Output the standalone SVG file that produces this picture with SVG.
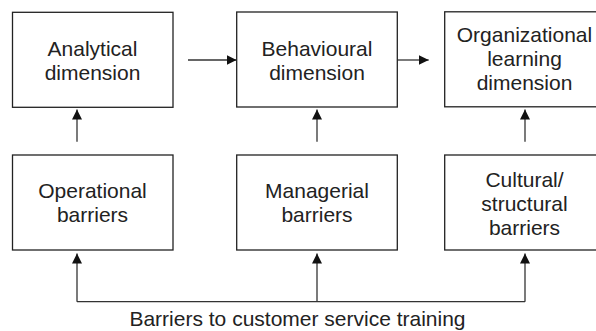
<svg xmlns="http://www.w3.org/2000/svg" width="596" height="331" viewBox="0 0 596 331">
  <style>
    .box { fill: #fff; stroke: #222; stroke-width: 1.3; }
    .lbl { font-family: "Liberation Sans", Arial, sans-serif; font-size: 21px; fill: #222; text-anchor: middle; }
    .conn { stroke: #333; stroke-width: 1.3; fill: none; }
    .arr { marker-end: url(#ah); }
  </style>
  <defs>
    <marker id="ah" markerUnits="userSpaceOnUse" markerWidth="11" markerHeight="10" refX="10" refY="5" orient="auto" viewBox="0 0 11 10">
      <path d="M0,0 L10,5 L0,10 z" fill="#111"/>
    </marker>
  </defs>
  <rect width="596" height="331" fill="#fff"/>

  <g id="connectors">
    <line class="conn arr" x1="188" y1="60" x2="236.5" y2="60"/>
    <line class="conn arr" x1="397.3" y1="60" x2="428.7" y2="60"/>
    <line class="conn arr" x1="77" y1="141.7" x2="77" y2="109.5"/>
    <line class="conn arr" x1="317" y1="141.7" x2="317" y2="109.5"/>
    <line class="conn arr" x1="525" y1="141.7" x2="525" y2="109.5"/>
    <line class="conn" x1="77" y1="301.7" x2="525" y2="301.7"/>
    <line class="conn arr" x1="77" y1="301.7" x2="77" y2="253.5"/>
    <line class="conn arr" x1="317" y1="301.7" x2="317" y2="253.5"/>
    <line class="conn arr" x1="525" y1="301.7" x2="525" y2="253.5"/>
  </g>

  <g id="analytical">
    <rect class="box" x="12.5" y="12.3" width="160.5" height="95"/>
    <text class="lbl" x="92.5" y="55.5">Analytical</text>
    <text class="lbl" x="92.5" y="79.5">dimension</text>
  </g>
  <g id="behavioural">
    <rect class="box" x="236.7" y="12" width="160.6" height="95"/>
    <text class="lbl" x="317" y="55.5">Behavioural</text>
    <text class="lbl" x="317" y="79.5">dimension</text>
  </g>
  <g id="organizational">
    <rect class="box" x="444.7" y="11.8" width="160.6" height="95"/>
    <text class="lbl" x="524.5" y="41.5">Organizational</text>
    <text class="lbl" x="524.5" y="65.5">learning</text>
    <text class="lbl" x="524.5" y="89.5">dimension</text>
  </g>
  <g id="operational">
    <rect class="box" x="12.5" y="155" width="160.5" height="95"/>
    <text class="lbl" x="92.5" y="198.3">Operational</text>
    <text class="lbl" x="92.5" y="222.3">barriers</text>
  </g>
  <g id="managerial">
    <rect class="box" x="236.7" y="155" width="160.6" height="95"/>
    <text class="lbl" x="317" y="198.3">Managerial</text>
    <text class="lbl" x="317" y="222.3">barriers</text>
  </g>
  <g id="cultural">
    <rect class="box" x="444.7" y="155" width="160.6" height="95"/>
    <text class="lbl" x="524.5" y="186.5">Cultural/</text>
    <text class="lbl" x="524.5" y="210.5">structural</text>
    <text class="lbl" x="524.5" y="234.5">barriers</text>
  </g>
  <g id="title">
    <text class="lbl" x="297.5" y="326">Barriers to customer service training</text>
  </g>
</svg>
